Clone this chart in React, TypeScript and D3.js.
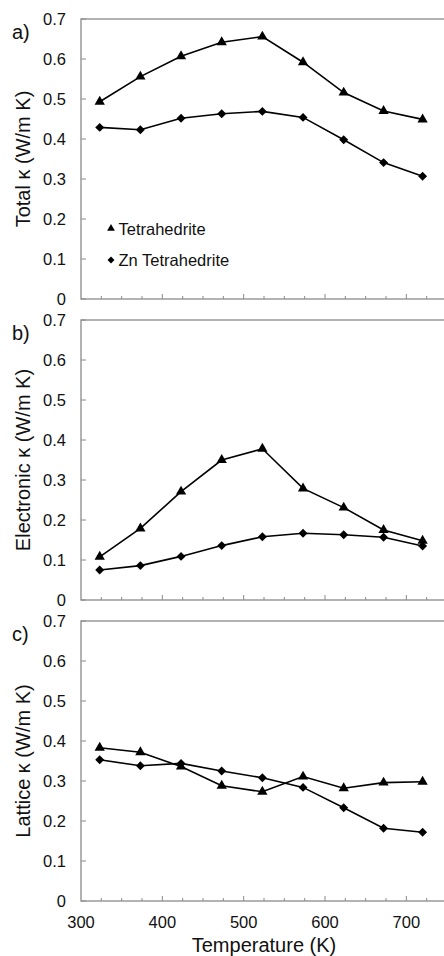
import * as d3 from 'd3';
import React, { useEffect, useRef } from 'react';

// temperatures (K) shared by every panel
const temps = [323, 373, 423, 473, 523, 573, 623, 672, 720];

// a) total thermal conductivity
const totalTetra = [0.493, 0.556, 0.607, 0.642, 0.656, 0.592, 0.516, 0.47, 0.449];
const totalZn = [0.429, 0.423, 0.452, 0.463, 0.469, 0.454, 0.398, 0.341, 0.307];
// b) electronic
const elecTetra = [0.108, 0.179, 0.271, 0.35, 0.378, 0.279, 0.231, 0.175, 0.148];
const elecZn = [0.075, 0.086, 0.109, 0.136, 0.158, 0.167, 0.163, 0.157, 0.135];
// c) lattice
const latTetra = [0.383, 0.372, 0.336, 0.288, 0.273, 0.311, 0.282, 0.296, 0.298];
const latZn = [0.353, 0.338, 0.344, 0.325, 0.308, 0.284, 0.233, 0.182, 0.172];

const yTicks = [0, 0.1, 0.2, 0.3, 0.4, 0.5, 0.6, 0.7];
const xMajorTicks = [300, 400, 500, 600, 700];
const panelLetters = ['a)', 'b)', 'c)'];
const yTitles = ['Total κ (W/m K)', 'Electronic κ (W/m K)', 'Lattice κ (W/m K)'];
const legendNames = ['Tetrahedrite', 'Zn Tetrahedrite'];

const FONT = "'Liberation Sans', Arial, Helvetica, sans-serif";

const App = () => {
  const ref = useRef(null);

  useEffect(() => {
    const svg = d3.select(ref.current);
    svg.selectAll('*').remove();

    const panels = [
      [totalTetra, totalZn],
      [elecTetra, elecZn],
      [latTetra, latZn],
    ];
    const tops = [19, 320, 621];
    const h = 280;
    const left = 81, right = 447;
    const axisColor = '#8a8a8a';

    const x = d3.scaleLinear().domain([300, 750]).range([left, right]);
    const minorTicks = d3.range(325, 750, 25);

    const tri = d3.symbol(d3.symbolTriangle, 46)();
    const dia = d3.symbol(d3.symbolSquare, 40)();
    const triSmall = d3.symbol(d3.symbolTriangle, 26)();
    const diaSmall = d3.symbol(d3.symbolSquare, 24)();

    panels.forEach((series, i) => {
      const top = tops[i];
      const y = d3.scaleLinear().domain([0, 0.7]).range([top + h, top]);
      const g = svg.append('g');

      // frame
      g.append('rect')
        .attr('x', left).attr('y', top)
        .attr('width', right - left).attr('height', h)
        .attr('fill', 'none')
        .attr('stroke', axisColor)
        .attr('stroke-width', 1.3);

      // y ticks + labels
      g.selectAll('.ytick').data(yTicks).join('line')
        .attr('x1', left).attr('x2', left + 5)
        .attr('y1', d => y(d)).attr('y2', d => y(d))
        .attr('stroke', axisColor).attr('stroke-width', 1);
      g.selectAll('.ylab').data(yTicks).join('text')
        .attr('x', 66).attr('y', d => y(d))
        .attr('dy', '0.36em')
        .attr('text-anchor', 'end')
        .attr('font-family', FONT).attr('font-size', 16.5)
        .attr('fill', '#111')
        .text(d => (d === 0 ? '0' : d.toFixed(1)));

      // x ticks (minor every 25 K, major every 100 K)
      g.selectAll('.xminor').data(minorTicks).join('line')
        .attr('x1', d => x(d)).attr('x2', d => x(d))
        .attr('y1', top + h).attr('y2', d => top + h - (d % 100 === 0 ? 5 : 3))
        .attr('stroke', axisColor).attr('stroke-width', 1);

      // y title
      g.append('text')
        .attr('transform', `translate(30,${top + h / 2}) rotate(-90)`)
        .attr('text-anchor', 'middle')
        .attr('font-family', FONT).attr('font-size', 20)
        .attr('fill', '#111')
        .text(yTitles[i]);

      // panel letter
      g.append('text')
        .attr('x', 12).attr('y', top + 19.5)
        .attr('font-family', FONT).attr('font-size', 20)
        .attr('fill', '#111')
        .text(panelLetters[i]);

      // lines + markers
      series.forEach((vals, s) => {
        const pts = temps.map((t, k) => [x(t), y(vals[k])]);
        g.append('path')
          .attr('d', d3.line()(pts))
          .attr('fill', 'none')
          .attr('stroke', '#000')
          .attr('stroke-width', 1.6);
        g.selectAll(null).data(pts).join('path')
          .attr('d', s === 0 ? tri : dia)
          .attr('transform', d => `translate(${d[0]},${d[1]})` + (s === 1 ? ' rotate(45)' : ''))
          .attr('fill', '#000');
      });

      if (i === 2) {
        g.selectAll('.xlab').data(xMajorTicks).join('text')
          .attr('x', d => x(d)).attr('y', 928)
          .attr('text-anchor', 'middle')
          .attr('font-family', FONT).attr('font-size', 16.5)
          .attr('fill', '#111')
          .text(d => d);
        g.append('text')
          .attr('x', x(525)).attr('y', 952)
          .attr('text-anchor', 'middle')
          .attr('font-family', FONT).attr('font-size', 20)
          .attr('fill', '#111')
          .text('Temperature (K)');
      }

      if (i === 0) {
        const leg = g.append('g');
        legendNames.forEach((name, s) => {
          const ly = [228.5, 260][s];
          leg.append('path')
            .attr('d', s === 0 ? triSmall : diaSmall)
            .attr('transform', `translate(111,${ly})` + (s === 1 ? ' rotate(45)' : ''))
            .attr('fill', '#000');
          leg.append('text')
            .attr('x', 118.5).attr('y', ly + 6)
            .attr('font-family', FONT).attr('font-size', 16.5)
            .attr('fill', '#111')
            .text(name);
        });
      }
    });
  }, []);

  return (
    <svg ref={ref} width={444} height={956}
      style={{ position: 'absolute', left: 0, top: 0, background: '#fff' }} />
  );
};

export default App;
